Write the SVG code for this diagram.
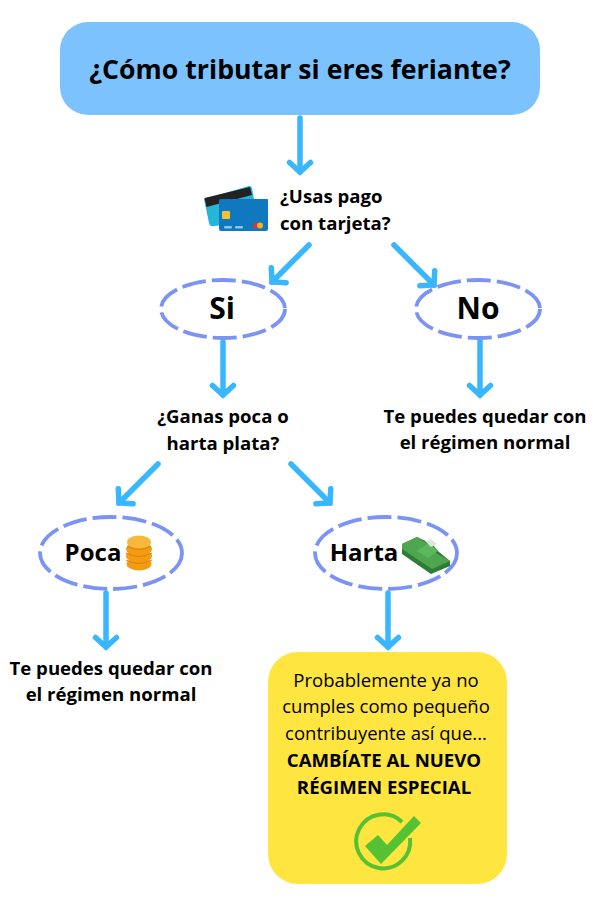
<svg xmlns="http://www.w3.org/2000/svg" width="600" height="903" viewBox="0 0 600 903">
<defs>
<marker id="ah" markerUnits="userSpaceOnUse" markerWidth="34" markerHeight="34" refX="17" refY="17" orient="auto" viewBox="0 0 34 34" overflow="visible"><path d="M7.500 6.500 L17 17 L7.500 27.500" fill="none" stroke="#38b6ff" stroke-width="5.500" stroke-linecap="round" stroke-linejoin="miter"/></marker>
</defs>
<style>
text{font-family:"Open Sans","Noto Sans","Liberation Sans",sans-serif;text-anchor:middle;fill:#000}
.b{font-weight:700;font-size:18.600px}
.h{font-weight:700;font-size:30px}
.o{font-weight:700;font-size:24px}
.r{font-size:18.500px}
.e{fill:none;stroke:#7b93f5;stroke-width:3.800;stroke-dasharray:24 6}
.c{fill:none;stroke:#38b6ff;stroke-width:5.500;stroke-linecap:round;marker-end:url(#ah)}
</style>
<rect width="600" height="903" fill="#fff"/>
<g id="connectors">
<path class="c" d="M300 118V172"/>
<path class="c" d="M309 245L272 282"/>
<path class="c" d="M394 245L434 285"/>
<path class="c" d="M223 342V395"/>
<path class="c" d="M480 341V395"/>
<path class="c" d="M158 464L119 503"/>
<path class="c" d="M291 464L330 503"/>
<path class="c" d="M106 593V647"/>
<path class="c" d="M388 593V647"/>
</g>
<g id="title"><rect x="60" y="22" width="480" height="93" rx="28" fill="#7cc2ff"/><text x="300" y="79" style="font-size:26.700px;font-weight:700">¿Cómo tributar si eres feriante?</text></g>
<g id="q1">
<g><path d="M204 199L249 186Q251 185.500 252 188L254 199L268 199L268 220L214 226Q210 227 209 223Z" fill="#25b5d6"/><path d="M204.500 198L250 187L252 195L206.500 207Z" fill="#222"/><rect x="219" y="199" width="49" height="32" rx="2" fill="#0f78bf"/><rect x="222" y="211" width="8" height="8" rx="1" fill="#f2c230"/><rect x="224" y="226" width="8" height="2.500" rx="1" fill="#8fc3e8"/><rect x="235" y="226" width="8" height="2.500" rx="1" fill="#8fc3e8"/><circle cx="256" cy="225.500" r="3" fill="#d8343a"/><circle cx="260" cy="225.500" r="3" fill="#f4b223"/></g>
<text class="b" x="280" y="203" style="text-anchor:start">¿Usas pago</text><text class="b" x="280" y="230" style="text-anchor:start">con tarjeta?</text></g>
<g id="si"><ellipse class="e" cx="223" cy="309" rx="62" ry="29"/><text class="h" x="222" y="319">Si</text></g>
<g id="no"><ellipse class="e" cx="478" cy="309" rx="62" ry="29"/><text class="h" x="478" y="319">No</text></g>
<g id="q2"><text class="b" x="223" y="423">¿Ganas poca o</text><text class="b" x="223" y="450">harta plata?</text></g>
<g id="normal1"><text class="b" x="485" y="423">Te puedes quedar con</text><text class="b" x="485" y="449">el régimen normal</text></g>
<g id="poca"><ellipse class="e" cx="111" cy="553" rx="71" ry="36"/><text class="o" x="93" y="561">Poca</text>
<g fill="#f39c12"><ellipse cx="139" cy="564" rx="12.500" ry="6.500"/><ellipse cx="139" cy="556" rx="13" ry="6.500"/><ellipse cx="139" cy="549" rx="13" ry="6.500"/><ellipse cx="139" cy="542" rx="12" ry="6.500" fill="#f6b93b"/></g>
<path d="M126 553Q139 560 152 553M126 560Q139 567 152 560M127 546Q139 553 151 546" fill="none" stroke="#d9820f" stroke-width="1"/></g>
<g id="harta"><ellipse class="e" cx="386" cy="553" rx="71" ry="36"/><text class="o" x="364" y="561">Harta</text>
<path d="M402 544L417 537L432 544L439 552L450 561L450 566L431 574L402 554Z" fill="#2e7d36"/><path d="M402 544L417 537L429 545L427 551L436 553L450 561L432 569L402 549Z" fill="#4ea64f"/><path d="M417 551L429 543L438 551L428 558Z" fill="#5cb85c"/><path d="M425 541L431 539L437 544L431 547Z" fill="#dfe7dc"/></g>
<g id="normal2"><text class="b" x="111" y="675">Te puedes quedar con</text><text class="b" x="111" y="701">el régimen normal</text></g>
<g id="result"><rect x="268" y="652" width="239" height="232" rx="30" fill="#ffe53f"/>
<text class="r" x="386" y="687">Probablemente ya no</text><text class="r" x="386" y="713">cumples como pequeño</text><text class="r" x="386" y="740">contribuyente así que...</text>
<text class="b" x="384" y="767">CAMBÍATE AL NUEVO</text><text class="b" x="384" y="794">RÉGIMEN ESPECIAL</text>
<path d="M402 822A27 27 0 1 0 410 838" fill="none" stroke="#55c234" stroke-width="4"/>
<path d="M365 846L378 835L387 845L414 816L421 823L381 864Z" fill="#55c234"/></g>
</svg>
